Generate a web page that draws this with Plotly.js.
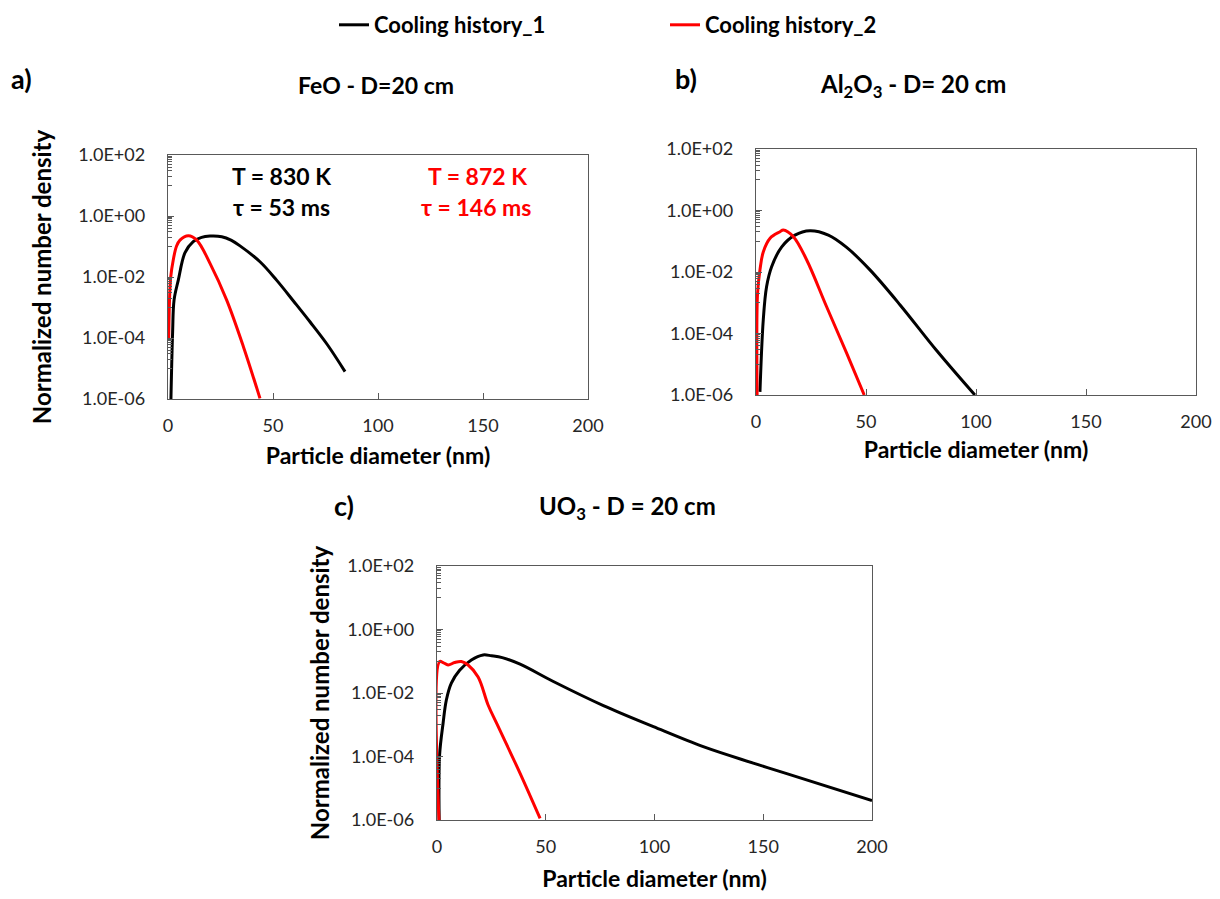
<!DOCTYPE html>
<html>
<head>
<meta charset="utf-8">
<script src="https://cdn.plot.ly/plotly-3.0.1.min.js"></script>
<style>html,body{margin:0;padding:0;background:#fff;}#chart{width:1220px;height:899px;}</style>
</head>
<body>
<div id="chart"></div>
<script>
// Panel a) FeO - D=20 cm
const feoD1 = [1.4, 2.2, 2.9, 4.9, 8.1, 12, 16, 20, 25.6, 30, 34.3, 43.8, 51.7, 60, 67.6, 76, 84.3];
const feoN1 = [1e-6, 1.58e-4, 1.78e-3, 7.9e-3, 6.3e-2, 0.145, 0.2, 0.219, 0.209, 0.162, 0.105, 3.16e-2, 7.9e-3, 1.55e-3, 3.4e-4, 5.9e-5, 7.9e-6];
const feoD2 = [0.3, 0.8, 1.3, 2.5, 4, 5.7, 9.7, 13.7, 20, 27.9, 35.9, 43.8];
const feoN2 = [8.5e-5, 2.5e-3, 1e-2, 3.6e-2, 0.1, 0.162, 0.224, 0.162, 2.8e-2, 1.78e-3, 5.2e-5, 1.05e-6];

// Panel b) Al2O3 - D=20 cm
const alD1 = [1.8, 3.3, 4.8, 7.1, 11.7, 17.7, 24.5, 32.9, 41.2, 51.8, 65.5, 82.1, 99.5];
const alN1 = [1.26e-6, 2.75e-4, 3.3e-3, 1.48e-2, 6.6e-2, 0.158, 0.219, 0.158, 6.3e-2, 1.17e-2, 8.5e-4, 2.8e-5, 1e-6];
const alD2 = [0.5, 0.7, 1.8, 3.3, 6.4, 10.9, 12.4, 17, 23, 32.1, 41.2, 49.2];
const alN2 = [1e-6, 2e-3, 1.17e-2, 4.5e-2, 0.126, 0.204, 0.234, 0.141, 2.5e-2, 7.4e-4, 2.3e-5, 1e-6];

// Panel c) UO3 - D=20 cm
const uoD1 = [1.0, 1.2, 2.8, 4.3, 6.6, 10.4, 15.8, 21.2, 25.1, 30, 38.2, 53.5, 76.5, 99.5, 122.4, 145.4, 160.8, 200];
const uoN1 = [1e-6, 1.12e-4, 1.12e-3, 6e-3, 2.04e-2, 5.2e-2, 0.11, 0.158, 0.148, 0.13, 8.1e-2, 2.3e-2, 4e-3, 8.7e-4, 2.04e-4, 6.2e-5, 2.9e-5, 4.1e-6];
const uoD2 = [0.9, 1.2, 2.8, 5.1, 8.1, 11.2, 14.3, 18.9, 23.5, 27.4, 38.2, 47.4];
const uoN2 = [1e-6, 9.8e-2, 9.1e-2, 7.6e-2, 9.1e-2, 9.8e-2, 7.6e-2, 3.2e-2, 4.2e-3, 1.12e-3, 2.95e-5, 1.12e-6];

const seriesNames = ["Cooling history_1", "Cooling history_2"];
const seriesColors = ["#000000", "#ff0000"];
const xTickVals = [0, 50, 100, 150, 200];
const yTickVals = [1e-6, 1e-4, 1e-2, 1, 100];
const yTickText = ["1.0E-06", "1.0E-04", "1.0E-02", "1.0E+00", "1.0E+02"];
const panelTitles = ["FeO - D=20 cm", "Al<sub>2</sub>O<sub>3</sub> - D= 20 cm", "UO<sub>3</sub> - D = 20 cm"];
const panelLetters = ["a)", "b)", "c)"];
const xTitle = "Particle diameter (nm)";
const yTitle = "Normalized number density";

const minorVals = [];
[-5, -3, -1, 1].forEach(e => { for (let k = 1; k <= 9; k++) minorVals.push(k * Math.pow(10, e)); });

const FONT = "Lato, 'Open Sans', sans-serif";
const W = 1220, H = 899;
const px = v => v / W, py = v => 1 - v / H;

const panels = [
  {d1: feoD1, n1: feoN1, d2: feoD2, n2: feoN2, xa: 'x', ya: 'y', box: [168, 588, 155, 399], ytitle: yTitle},
  {d1: alD1, n1: alN1, d2: alD2, n2: alN2, xa: 'x2', ya: 'y2', box: [756, 1196, 149, 395], ytitle: ''},
  {d1: uoD1, n1: uoN1, d2: uoD2, n2: uoN2, xa: 'x3', ya: 'y3', box: [437, 872, 566, 820], ytitle: yTitle}
];

const traces = [];
panels.forEach((p, i) => {
  traces.push({x: p.d1, y: p.n1, xaxis: p.xa, yaxis: p.ya, type: 'scatter', mode: 'lines',
    name: seriesNames[0], line: {color: seriesColors[0], width: 3, shape: 'spline', smoothing: 1},
    showlegend: i === 0, legendgroup: 'g1'});
  traces.push({x: p.d2, y: p.n2, xaxis: p.xa, yaxis: p.ya, type: 'scatter', mode: 'lines',
    name: seriesNames[1], line: {color: seriesColors[1], width: 3, shape: 'spline', smoothing: 1},
    showlegend: i === 0, legendgroup: 'g2'});
});

const boldFont = (s, c) => ({family: FONT, size: s, color: c || '#000', weight: 'bold'});

function xAxis(box, anchor, standoff) {
  return {domain: [px(box[0]), px(box[1])], anchor: anchor, range: [0, 200], tickmode: 'array',
    tickvals: xTickVals, ticks: 'inside', ticklen: 6, tickcolor: '#595959', showline: true, mirror: true,
    linecolor: '#595959', linewidth: 1.3, showgrid: false, zeroline: false, ticklabelstandoff: 10,
    tickfont: {family: FONT, size: 18, color: '#262626'}, fixedrange: true,
    title: {text: '<b>' + xTitle + '</b>', font: boldFont(23), standoff: standoff}};
}
function yAxis(box, anchor, title, standoff) {
  const ax = {domain: [py(box[3]), py(box[2])], anchor: anchor, type: 'log', range: [-6, 2], tickmode: 'array',
    tickvals: yTickVals, ticktext: yTickText, ticks: 'inside', ticklen: 6, tickcolor: '#595959',
    showline: true, mirror: true, linecolor: '#595959', linewidth: 1.3, showgrid: false, zeroline: false,
    minor: {tickmode: 'array', tickvals: minorVals, ticks: 'inside', ticklen: 4, tickcolor: '#595959', showgrid: false},
    ticklabelstandoff: 18, tickfont: {family: FONT, size: 18, color: '#262626'}, fixedrange: true};
  if (title) ax.title = {text: '<b>' + title + '</b>', font: boldFont(24), standoff: standoff};
  return ax;
}

const ann = [];
const addText = (text, x, y, size, color, xanchor) => ann.push({text: '<b>' + text + '</b>', x: px(x), y: py(y),
  xref: 'paper', yref: 'paper', showarrow: false, xanchor: xanchor || 'center', yanchor: 'middle',
  font: boldFont(size, color)});

addText(panelLetters[0], 9, 78, 27, '#000', 'left');
addText(panelLetters[1], 673, 78, 27, '#000', 'left');
addText(panelLetters[2], 332, 505, 27, '#000', 'left');
addText(panelTitles[0], 376, 85, 23);
addText(panelTitles[1], 913, 85, 24);
addText(panelTitles[2], 627, 507, 24);
addText('T = 830 K', 281, 176, 23);
addText('τ = 53 ms', 281, 207, 23);
addText('T = 872 K', 477, 176, 23, '#ff0000');
addText('τ = 146 ms', 476, 207, 23, '#ff0000');

const layout = {
  width: W, height: H, margin: {l: 0, r: 0, t: 0, b: 0}, paper_bgcolor: '#fff', plot_bgcolor: '#fff',
  font: {family: FONT},
  showlegend: true,
  legend: {orientation: 'h', x: px(334), y: py(4), xanchor: 'left', yanchor: 'top',
    entrywidth: 286, entrywidthmode: 'pixels', font: boldFont(22), bgcolor: 'rgba(0,0,0,0)'},
  xaxis: xAxis(panels[0].box, 'y', 13), yaxis: yAxis(panels[0].box, 'x', panels[0].ytitle, 20),
  xaxis2: xAxis(panels[1].box, 'y2', 11), yaxis2: yAxis(panels[1].box, 'x2', panels[1].ytitle, 20),
  xaxis3: xAxis(panels[2].box, 'y3', 15), yaxis3: yAxis(panels[2].box, 'x3', panels[2].ytitle, 11),
  annotations: ann
};

Plotly.newPlot('chart', traces, layout, {displayModeBar: false, staticPlot: true});
</script>
</body>
</html>
